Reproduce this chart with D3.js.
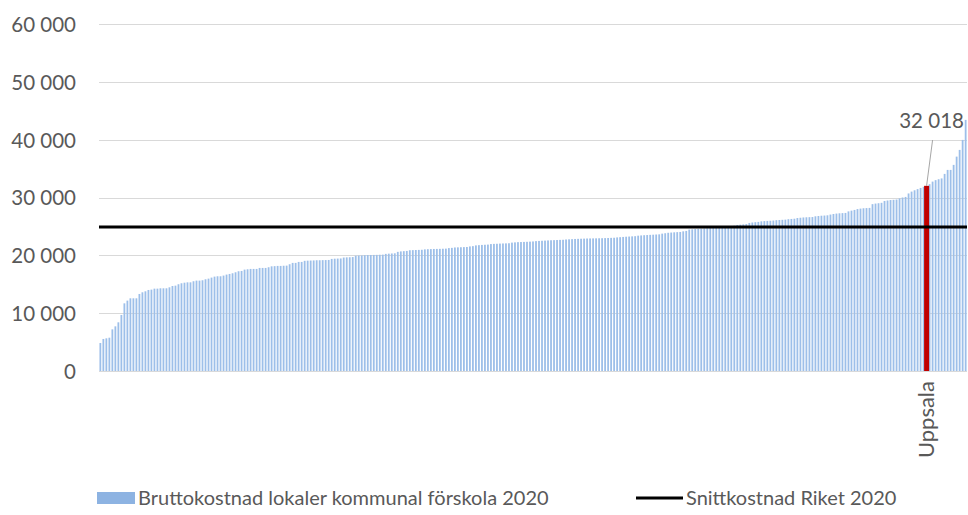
<!DOCTYPE html>
<html>
<head>
<meta charset="utf-8">
<script src="https://cdn.jsdelivr.net/npm/d3@7"></script>
<style>
  body { margin: 0; background: #fff; }
  text { font-family: Lato, "Open Sans", sans-serif; fill: #595959; }
</style>
</head>
<body>
<svg id="chart" width="968" height="515"></svg>
<script>
// kostnad per barn, sorterad stigande (289 kommuner)
const values = [
  4840,5540,5650,5760,7200,7720,8420,9690,11700,12170,
  12570,12570,12570,13320,13610,13780,14010,14070,14240,14240,
  14300,14300,14300,14470,14700,14760,15000,15170,15270,15330,
  15330,15520,15630,15630,15690,15860,15970,16150,16320,16380,
  16380,16500,16670,16780,16900,17070,17250,17300,17530,17590,
  17650,17650,17650,17820,17820,17820,17940,18100,18130,18170,
  18170,18200,18220,18460,18690,18690,18860,18860,19050,19080,
  19100,19120,19150,19150,19170,19180,19200,19380,19420,19440,
  19460,19620,19650,19670,19700,19930,19960,19980,20030,20050,
  20060,20070,20080,20100,20120,20250,20290,20320,20350,20600,
  20680,20720,20760,20880,20900,20920,20940,20960,21030,21060,
  21080,21100,21110,21120,21140,21160,21250,21290,21360,21380,
  21400,21420,21440,21540,21590,21720,21760,21800,21830,21860,
  21950,21980,22000,22030,22050,22070,22090,22200,22240,22280,
  22300,22320,22340,22370,22400,22460,22490,22520,22550,22580,
  22610,22630,22650,22670,22690,22740,22770,22800,22830,22850,
  22870,22890,22910,22920,22930,22940,22950,22960,22980,23000,
  23020,23040,23100,23140,23180,23220,23250,23280,23310,23400,
  23440,23480,23510,23540,23570,23600,23630,23750,23820,23900,
  23940,23980,24010,24040,24150,24220,24450,24500,24540,24580,
  24620,24650,24680,24720,24760,24800,24850,24900,24950,25000,
  25060,25120,25250,25300,25350,25400,25600,25680,25730,25780,
  25880,25920,25950,25980,26020,26080,26110,26140,26170,26250,
  26290,26330,26450,26500,26550,26580,26600,26620,26750,26800,
  26850,26880,26920,27050,27150,27220,27270,27300,27330,27600,
  27730,27850,28000,28080,28140,28170,28200,28850,28950,29010,
  29080,29400,29480,29560,29600,29650,29850,30000,30100,30700,
  31020,31250,31450,31650,31850,32018,32300,32750,33000,33160,
  33300,34080,34770,34770,35640,37070,38230,39960,43420
];
const highlightIndex = 275;
const highlightName = 'Uppsala';
const average = 24900;
const yTicks = [0, 10000, 20000, 30000, 40000, 50000, 60000];
const seriesName = 'Bruttokostnad lokaler kommunal förskola 2020';
const avgName = 'Snittkostnad Riket 2020';

const svg = d3.select('#chart');

const se = d3.formatLocale({ decimal: ',', thousands: '\u00a0', grouping: [3], currency: ['', ' kr'] });
const fmt = se.format(',d');

const x = d3.scaleBand()
  .domain(d3.range(values.length))
  .range([99, 967])
  .paddingInner(0.4)
  .paddingOuter(0.15);

const y = d3.scaleLinear()
  .domain([0, 60000])
  .range([371, 24]);

// gridlines + labels
const yAxis = svg.append('g')
  .call(d3.axisLeft(y).tickValues(yTicks).tickSize(0).tickPadding(0).tickFormat(fmt));
yAxis.select('.domain').remove();
yAxis.selectAll('text')
  .attr('x', 76)
  .attr('dy', '0.36em')
  .attr('font-size', '20.5px')
  .style('font-family', 'Lato, sans-serif')
  .attr('fill', '#595959');

svg.append('g').selectAll('line')
  .data(yTicks)
  .join('line')
  .attr('x1', 99).attr('x2', 967)
  .attr('y1', d => Math.round(y(d)) + 0.5)
  .attr('y2', d => Math.round(y(d)) + 0.5)
  .attr('stroke', '#d9d9d9')
  .attr('stroke-width', 1);

// staplar
svg.append('g').selectAll('rect')
  .data(values)
  .join('rect')
  .attr('x', (d, i) => x(i))
  .attr('width', x.bandwidth())
  .attr('y', d => y(d))
  .attr('height', d => y(0) - y(d))
  .attr('fill', (d, i) => i === highlightIndex ? 'none' : '#9dbfe9');

// Uppsala
const hx = x(highlightIndex) + x.bandwidth() / 2;
svg.append('rect')
  .attr('x', hx - 2.5)
  .attr('width', 5)
  .attr('y', y(values[highlightIndex]))
  .attr('height', y(0) - y(values[highlightIndex]))
  .attr('fill', '#c00000');

// snittlinje
svg.append('line')
  .attr('x1', 99).attr('x2', 967)
  .attr('y1', y(average)).attr('y2', y(average))
  .attr('stroke', '#000')
  .attr('stroke-width', 3);

// dataetikett med hänvisningslinje
svg.append('line')
  .attr('x1', hx).attr('y1', y(values[highlightIndex]))
  .attr('x2', hx + 6).attr('y2', 140)
  .attr('stroke', '#a6a6a6')
  .attr('stroke-width', 1);
svg.append('text')
  .attr('x', hx + 5)
  .attr('y', 128)
  .attr('text-anchor', 'middle')
  .attr('font-size', '20.5px')
  .attr('fill', '#404040')
  .text(fmt(values[highlightIndex]));

// kategorietikett
svg.append('text')
  .attr('transform', `translate(${hx + 7},381) rotate(-90)`)
  .attr('text-anchor', 'end')
  .attr('font-size', '22px')
  .text(highlightName);

// legend
const lg = svg.append('g');
lg.append('rect')
  .attr('x', 97).attr('y', 492)
  .attr('width', 38).attr('height', 12)
  .attr('fill', '#8db3e2');
lg.append('text')
  .attr('x', 138).attr('y', 505)
  .attr('font-size', '20px')
  .text(seriesName);
lg.append('line')
  .attr('x1', 636).attr('x2', 683)
  .attr('y1', 498).attr('y2', 498)
  .attr('stroke', '#000')
  .attr('stroke-width', 3);
lg.append('text')
  .attr('x', 686).attr('y', 505)
  .attr('font-size', '20px')
  .text(avgName);
</script>
</body>
</html>
